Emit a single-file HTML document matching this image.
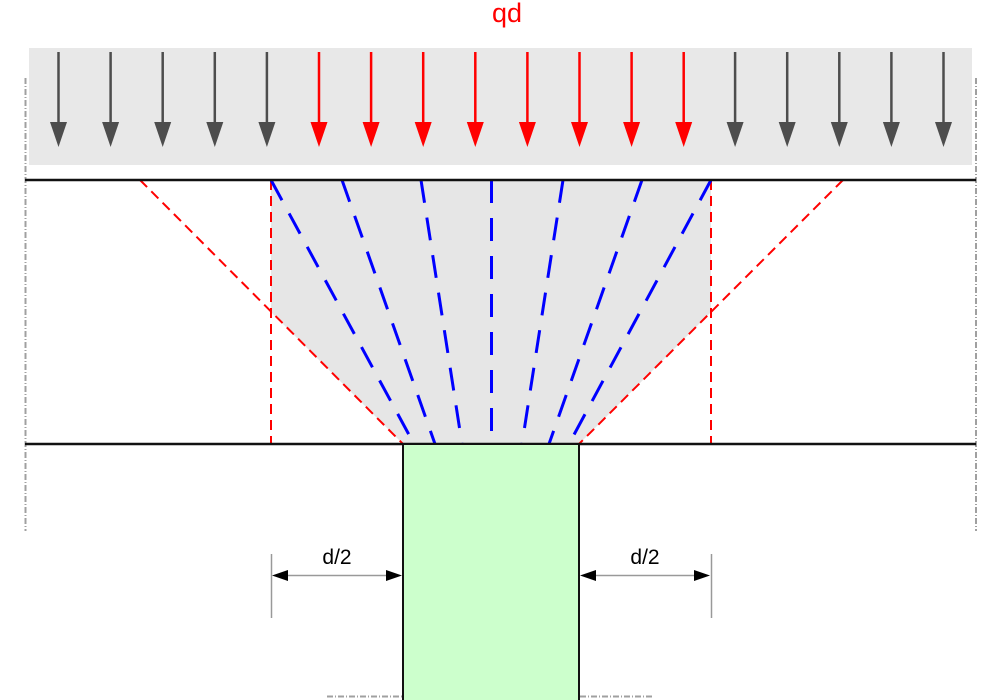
<!DOCTYPE html>
<html><head><meta charset="utf-8"><style>
html,body{margin:0;padding:0;background:#fff;}
svg{display:block;}
</style></head><body>
<svg width="1000" height="700" viewBox="0 0 1000 700" xmlns="http://www.w3.org/2000/svg">
<rect x="0" y="0" width="1000" height="700" fill="#fff"/>
<text x="507" y="22" font-family="Liberation Sans, sans-serif" font-size="27" fill="#ff0000" text-anchor="middle">qd</text>
<rect x="29" y="48" width="943" height="117" fill="#e8e8e8"/>
<g id="arrows">
<g stroke="#4d4d4d" stroke-width="2.5" fill="#4d4d4d">
<line x1="58.5" y1="52" x2="58.5" y2="124"/><polygon points="50,122 67,122 58.5,147" stroke="none"/>
<line x1="110.6" y1="52" x2="110.6" y2="124"/><polygon points="102.1,122 119.1,122 110.6,147" stroke="none"/>
<line x1="162.7" y1="52" x2="162.7" y2="124"/><polygon points="154.2,122 171.2,122 162.7,147" stroke="none"/>
<line x1="214.8" y1="52" x2="214.8" y2="124"/><polygon points="206.3,122 223.3,122 214.8,147" stroke="none"/>
<line x1="266.9" y1="52" x2="266.9" y2="124"/><polygon points="258.4,122 275.4,122 266.9,147" stroke="none"/>
<line x1="735.1" y1="52" x2="735.1" y2="124"/><polygon points="726.6,122 743.6,122 735.1,147" stroke="none"/>
<line x1="787.2" y1="52" x2="787.2" y2="124"/><polygon points="778.7,122 795.7,122 787.2,147" stroke="none"/>
<line x1="839.3" y1="52" x2="839.3" y2="124"/><polygon points="830.8,122 847.8,122 839.3,147" stroke="none"/>
<line x1="891.4" y1="52" x2="891.4" y2="124"/><polygon points="882.9,122 899.9,122 891.4,147" stroke="none"/>
<line x1="943.5" y1="52" x2="943.5" y2="124"/><polygon points="935,122 952,122 943.5,147" stroke="none"/>
</g>
<g stroke="#ff0000" stroke-width="2.5" fill="#ff0000">
<line x1="319" y1="52" x2="319" y2="124"/><polygon points="310.5,122 327.5,122 319,147" stroke="none"/>
<line x1="371.1" y1="52" x2="371.1" y2="124"/><polygon points="362.6,122 379.6,122 371.1,147" stroke="none"/>
<line x1="423.2" y1="52" x2="423.2" y2="124"/><polygon points="414.7,122 431.7,122 423.2,147" stroke="none"/>
<line x1="475.3" y1="52" x2="475.3" y2="124"/><polygon points="466.8,122 483.8,122 475.3,147" stroke="none"/>
<line x1="527.4" y1="52" x2="527.4" y2="124"/><polygon points="518.9,122 535.9,122 527.4,147" stroke="none"/>
<line x1="579.5" y1="52" x2="579.5" y2="124"/><polygon points="571,122 588,122 579.5,147" stroke="none"/>
<line x1="631.6" y1="52" x2="631.6" y2="124"/><polygon points="623.1,122 640.1,122 631.6,147" stroke="none"/>
<line x1="683.7" y1="52" x2="683.7" y2="124"/><polygon points="675.2,122 692.2,122 683.7,147" stroke="none"/>
</g>
</g>
<!-- side dash-dot lines -->
<g stroke="#a0a0a0" stroke-width="2" stroke-dasharray="6 2 1 2" fill="none">
<line x1="25.5" y1="78" x2="25.5" y2="531"/>
<line x1="976" y1="78" x2="976" y2="531"/>
<line x1="327" y1="696.5" x2="653" y2="696.5"/>
</g>
<!-- gray trapezoid -->
<polygon points="271,180 711,180 711,312 579,444 403,444 271,312" fill="#e6e6e6"/>
<!-- red dashed -->
<g stroke="#ff0000" stroke-width="2" stroke-dasharray="10 6" fill="none">
<line x1="271" y1="180" x2="271" y2="444"/>
<line x1="711" y1="180" x2="711" y2="444"/>
<line x1="140" y1="180" x2="403" y2="444"/>
<line x1="843" y1="180" x2="579" y2="444"/>
</g>
<!-- blue dashed -->
<g stroke="#0000ff" stroke-width="3" stroke-dasharray="23 15" fill="none">
<line x1="271" y1="180" x2="414" y2="444"/>
<line x1="342" y1="180" x2="435" y2="444"/>
<line x1="421" y1="180" x2="462" y2="444"/>
<line x1="491.5" y1="180" x2="491.5" y2="444"/>
<line x1="563" y1="180" x2="522" y2="444"/>
<line x1="642" y1="180" x2="549" y2="444"/>
<line x1="711" y1="180" x2="569" y2="444"/>
</g>
<!-- horizontal lines -->
<g stroke="#111" stroke-width="2.5">
<line x1="25" y1="180" x2="976" y2="180"/>
<line x1="25" y1="444" x2="976" y2="444"/>
</g>
<!-- column -->
<rect x="403" y="444" width="176" height="262" fill="#ccffcc" stroke="#111" stroke-width="2"/>
<!-- dimensions -->
<g stroke="#999" stroke-width="1.5">
<line x1="271.5" y1="554" x2="271.5" y2="618"/>
<line x1="711.5" y1="554" x2="711.5" y2="618"/>
<line x1="280" y1="575.5" x2="395" y2="575.5"/>
<line x1="588" y1="575.5" x2="703" y2="575.5"/>
</g>
<g fill="#000">
<polygon points="272,575.5 288,570 288,581"/>
<polygon points="402,575.5 386,570 386,581"/>
<polygon points="580,575.5 596,570 596,581"/>
<polygon points="710,575.5 694,570 694,581"/>
</g>
<text x="337" y="564" font-family="Liberation Sans, sans-serif" font-size="21" fill="#000" text-anchor="middle">d/2</text>
<text x="645" y="564" font-family="Liberation Sans, sans-serif" font-size="21" fill="#000" text-anchor="middle">d/2</text>
</svg>
</body></html>
